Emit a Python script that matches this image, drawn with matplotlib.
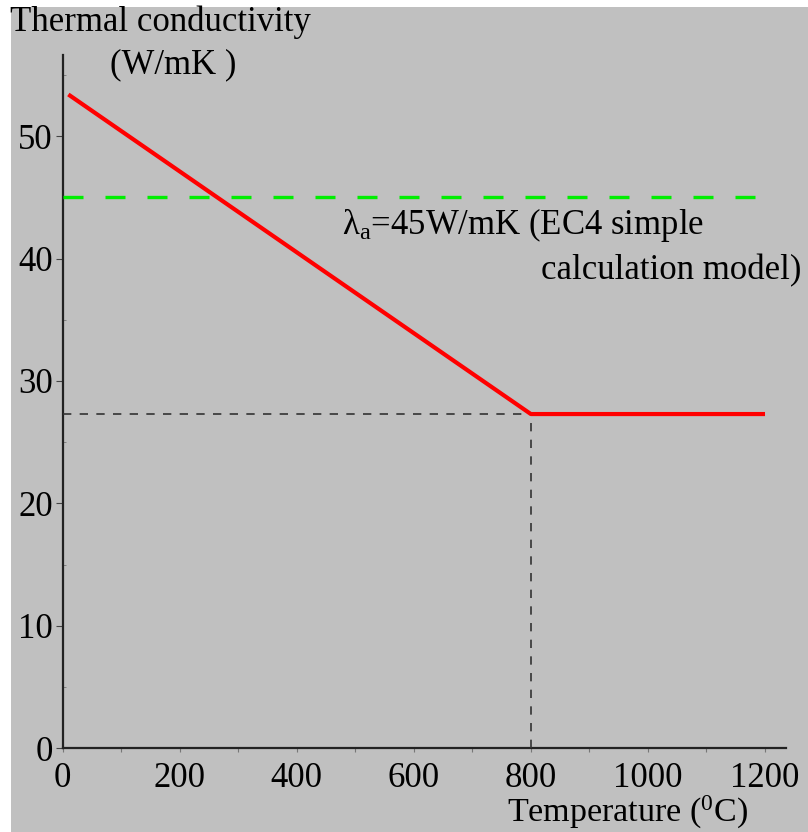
import matplotlib
matplotlib.use("Agg")
import matplotlib.pyplot as plt
from matplotlib.patches import Rectangle
from matplotlib.ticker import MultipleLocator

plt.rcParams['font.family'] = ['Liberation Serif', 'DejaVu Serif']
plt.rcParams['mathtext.fontset'] = 'custom'
plt.rcParams['mathtext.rm'] = 'Liberation Serif'
plt.rcParams['mathtext.it'] = 'Liberation Serif:italic'

# steel thermal conductivity vs temperature
temp = [10, 800, 1200]
lam = [53.4, 27.3, 27.3]

# constant value from the simple calculation model
lam_const = 45
const_range = [0, 1190]

# reference lines at the kink
kink_t = 800
kink_lam = 27.3

xticks = [0, 200, 400, 600, 800, 1000, 1200]
yticks = [0, 10, 20, 30, 40, 50]

grey = '#c0c0c0'
fs = 25

fig = plt.figure(figsize=(8.08, 8.32), dpi=100)
fig.patch.set_facecolor('white')
fig.patches.append(Rectangle((11 / 808, 0), 1, 1 - 7 / 832, transform=fig.transFigure,
                             facecolor=grey, edgecolor='none', zorder=-10))

ax = fig.add_axes([62.5 / 808, 83.7 / 832, 723 / 808, 693 / 832])
ax.patch.set_alpha(0)
ax.set_xlim(0, 1235)
ax.set_ylim(0, 56.6)

ax.plot(temp, lam, color='#ff0000', lw=3.0, solid_capstyle='butt', zorder=5)
ax.plot(const_range, [lam_const, lam_const], color='#00ee00', lw=2.4,
        dashes=(6, 6.6), zorder=4)
ax.plot([0, kink_t], [kink_lam, kink_lam], color='#333333', lw=1.2, dashes=(5, 5), zorder=3)
ax.plot([kink_t, kink_t], [0, kink_lam], color='#333333', lw=1.2, dashes=(5, 5), zorder=3)

for s in ['top', 'right']:
    ax.spines[s].set_visible(False)
for s in ['left', 'bottom']:
    ax.spines[s].set_color('#222222')
    ax.spines[s].set_linewidth(1.6)

ax.set_xticks(xticks)
ax.set_yticks(yticks)
ax.xaxis.set_minor_locator(MultipleLocator(100))
ax.yaxis.set_minor_locator(MultipleLocator(5))
ax.tick_params(axis='x', which='both', direction='out', length=3, width=0.8,
               color='#777777', labelsize=fs, pad=7)
ax.tick_params(axis='y', which='major', direction='out', length=5, width=0.8,
               color='#444444', labelsize=fs, pad=2)
ax.tick_params(axis='y', which='minor', direction='in', length=2, width=0.6, color='#777777')

fig.text(10 / 808, 1 - 22 / 832, 'Thermal conductivity', fontsize=fs, va='center', ha='left')
fig.text(173 / 808, 1 - 65 / 832, '(W/mK )', fontsize=fs, va='center', ha='center')
fig.text(748 / 808, 10 / 832, 'Temperature ($^0$C)', fontsize=24.5, va='baseline', ha='right')

ax.text(478, 42.7, r'λ$_{\mathrm{a}}$=45W/mK (EC4 simple', fontsize=fs, va='center', ha='left')
ax.text(1262, 39.0, 'calculation model)', fontsize=fs, va='center', ha='right', clip_on=False)

fig.savefig('out.png', dpi=100, facecolor=fig.get_facecolor())
